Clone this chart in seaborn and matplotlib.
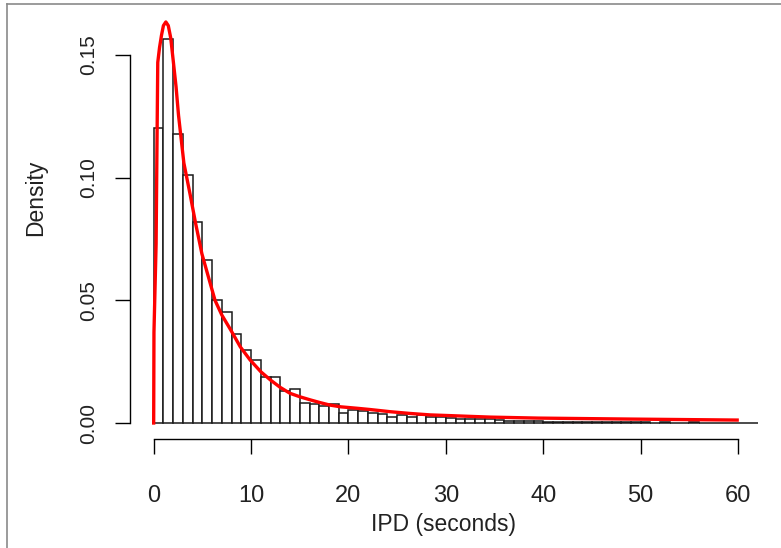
import numpy as np
import pandas as pd
import matplotlib
matplotlib.use("Agg")
import matplotlib.pyplot as plt
import seaborn as sns
from matplotlib.lines import Line2D

# ---------------- data ----------------
bin_left = list(range(0, 62))  # 1-second bins, left edges
bin_density = [
    0.1202, 0.1566, 0.1178, 0.1012, 0.0819, 0.0663, 0.0500, 0.0452, 0.0361, 0.0297,
    0.0257, 0.0189, 0.0189, 0.0132, 0.0137, 0.0080, 0.0076, 0.0069, 0.0076, 0.0042,
    0.0051, 0.0047, 0.0042, 0.0037, 0.0026, 0.0031, 0.0026, 0.0031, 0.0023, 0.0023,
    0.0020, 0.0018, 0.0018, 0.0016, 0.0015, 0.0011, 0.0009, 0.0008, 0.0009, 0.0008,
    0.0005, 0.0004, 0.0005, 0.0003, 0.0004, 0.0003, 0.0005, 0.0003, 0.0004, 0.0003,
    0.0003, 0.0002, 0.0003, 0.0002, 0.0002, 0.0003, 0.0002, 0.0002, 0.0002, 0.0002,
    0.0002, 0.0001,
]

curve_x = [0.0, 0.03, 0.25, 0.33, 0.42, 0.6, 0.8, 1.0, 1.25, 1.5, 1.75, 2.0, 2.3,
           2.55, 3.1, 3.75, 4.3, 4.95, 5.8, 6.3, 7.0, 7.9, 8.9, 9.9, 11.0, 12.0,
           13.0, 14.0, 15.0, 16.1, 17.1, 18.1, 19.2, 20.9, 22.2, 24.3, 26.3, 28.4,
           30.5, 32.5, 34.6, 39.5, 49.0, 59.9]
curve_y = [0.0, 0.037, 0.073, 0.109, 0.147, 0.153, 0.158, 0.162, 0.1635, 0.162,
           0.157, 0.148, 0.137, 0.1255, 0.106, 0.093, 0.0815, 0.069, 0.057, 0.050,
           0.044, 0.038, 0.031, 0.0257, 0.0209, 0.0175, 0.0145, 0.0121, 0.0107,
           0.0094, 0.0083, 0.0073, 0.0066, 0.0060, 0.0055, 0.0046, 0.0039, 0.0033,
           0.0030, 0.0027, 0.0024, 0.0020, 0.0016, 0.0012]

x_ticks = [0, 10, 20, 30, 40, 50, 60]
y_ticks = [0.00, 0.05, 0.10, 0.15]
y_tick_labels = ["0.00", "0.05", "0.10", "0.15"]
x_label = "IPD (seconds)"
y_label = "Density"

# ---------------- figure ----------------
W, H = 781, 548
fig = plt.figure(figsize=(W / 100, H / 100), dpi=100)
fig.patch.set_facecolor("white")

FONT = ["Liberation Sans", "DejaVu Sans"]
plt.rcParams["font.family"] = FONT

ax_l, ax_r, ax_t, ax_b = 130, 781, 6, 439
ax = fig.add_axes([ax_l / W, (H - ax_b) / H, (ax_r - ax_l) / W, (ax_b - ax_t) / H])
ax.set_facecolor("white")

hist_df = pd.DataFrame({"x": [b + 0.5 for b in bin_left], "w": bin_density})
sns.histplot(data=hist_df, x="x", weights="w", binwidth=1, binrange=(0, 62),
             stat="count", color="white", edgecolor="#1a1a1a", linewidth=1.1,
             alpha=1.0, ax=ax)

curve_df = pd.DataFrame({"x": curve_x, "y": curve_y})
sns.lineplot(data=curve_df, x="x", y="y", color="red", linewidth=2.4,
             estimator=None, sort=False, ax=ax)

ax.set_xlim(-2.43, 64.4)
ax.set_ylim(-0.00652, 0.170)

for s in ["top", "right"]:
    ax.spines[s].set_visible(False)
for s in ["left", "bottom"]:
    ax.spines[s].set_color("black")
    ax.spines[s].set_linewidth(1.0)
ax.spines["left"].set_bounds(0, 0.15)
ax.spines["bottom"].set_bounds(0, 60)

ax.set_xticks(x_ticks)
ax.set_xticklabels([str(t) for t in x_ticks])
ax.set_yticks(y_ticks)
ax.set_yticklabels(y_tick_labels, rotation=90, va="center")
ax.tick_params(axis="both", length=10.8, width=1.0, color="black", labelcolor="#222222")
ax.tick_params(axis="x", pad=22, labelsize=17)
ax.tick_params(axis="y", pad=12, labelsize=15)

ax.set_xlabel(x_label, fontsize=16.5, color="#222222", va="center")
ax.xaxis.set_label_coords((443.5 - ax_l) / (ax_r - ax_l), (ax_b - 524) / (ax_b - ax_t))
ax.set_ylabel(y_label, fontsize=16.5, color="#222222", va="center")
ax.yaxis.set_label_coords((36 - ax_l) / (ax_r - ax_l), (ax_b - 198) / (ax_b - ax_t))

# outer gray frame seen in the screenshot
fig.add_artist(Line2D([7 / W, 7 / W], [0, 1 - 4 / H], transform=fig.transFigure,
                      color="#8a8a8a", linewidth=1.2))
fig.add_artist(Line2D([7 / W, 1], [1 - 4 / H, 1 - 4 / H], transform=fig.transFigure,
                      color="#8a8a8a", linewidth=1.2))

fig.savefig("out.png", dpi=100)
